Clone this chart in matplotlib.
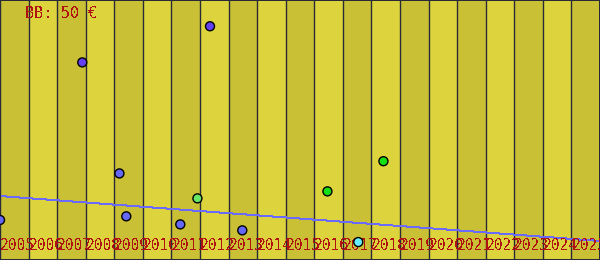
#!/usr/bin/env python3
"""Yearly striped scatter with a trend line and a price tag."""

import matplotlib
matplotlib.use("Agg")
import matplotlib.pyplot as plt
import matplotlib.transforms as mtransforms

YEARS = list(range(2005, 2026))

# observations: fractional year, value
POINT_X = [2005.00, 2007.88, 2009.18, 2009.42, 2011.31, 2011.91, 2012.35,
           2013.48, 2016.46, 2017.54, 2018.42]
POINT_Y = [15.4, 76.0, 33.3, 16.8, 13.7, 23.7, 89.9, 11.4, 26.4, 6.9, 38.0]
POINT_KIND = ["blue", "violet", "blue", "blue", "blue", "lightgreen", "violet",
              "blue", "green", "cyan", "green"]

TREND_X = [2005.0, 2026.0]
TREND_Y = [24.6, 7.3]

PRICE_LABEL = "BB: 50 €"

KIND_COLORS = {
    "blue": "#6468f2",
    "violet": "#6440f0",
    "lightgreen": "#66e866",
    "green": "#14e014",
    "cyan": "#66eeff",
}

STRIPE_DARK = "#c9c035"
STRIPE_LIGHT = "#ddd43d"
GRID_COLOR = "#2a2a36"
TEXT_RED = "#b01212"

PX = 72 / 100  # one pixel in points at dpi 100


def main() -> None:
    plt.rcParams["text.antialiased"] = False

    fig = plt.figure(figsize=(6.0, 2.6), dpi=100)
    ax = fig.add_axes([0, 0, 1, 1])
    ax.set_xlim(YEARS[0], YEARS[-1] + 1)
    ax.set_ylim(0, 100)

    for i, year in enumerate(YEARS):
        ax.axvspan(year, year + 1, color=STRIPE_DARK if i % 2 == 0 else STRIPE_LIGHT,
                   linewidth=0, zorder=0)
    ax.vlines(YEARS, 0, 100, colors=GRID_COLOR, linewidths=1.0, snap=True, zorder=1)

    ax.plot(TREND_X, TREND_Y, color="#6a6aff", linewidth=PX, antialiased=False, zorder=2)

    ax.scatter(POINT_X, POINT_Y, s=42, c=[KIND_COLORS[k] for k in POINT_KIND],
               edgecolors="black", linewidths=1.0, zorder=4)

    trans = mtransforms.blended_transform_factory(ax.transData, ax.transAxes)
    for year in YEARS:
        ax.text(year, 10 / 260, str(year), transform=trans, ha="left", va="baseline",
                family="DejaVu Sans Mono", fontsize=10.5, color=TEXT_RED, zorder=3)

    fig.text(25 / 600, 1 - 17.5 / 260, PRICE_LABEL, ha="left", va="baseline",
             family="DejaVu Sans Mono", fontsize=10.8, color=TEXT_RED)

    ax.set_xticks([])
    ax.set_yticks([])
    for spine in ax.spines.values():
        spine.set_color(GRID_COLOR)
        spine.set_linewidth(2 * PX)

    fig.savefig("out.png", dpi=100)
    plt.close(fig)


if __name__ == "__main__":
    main()
